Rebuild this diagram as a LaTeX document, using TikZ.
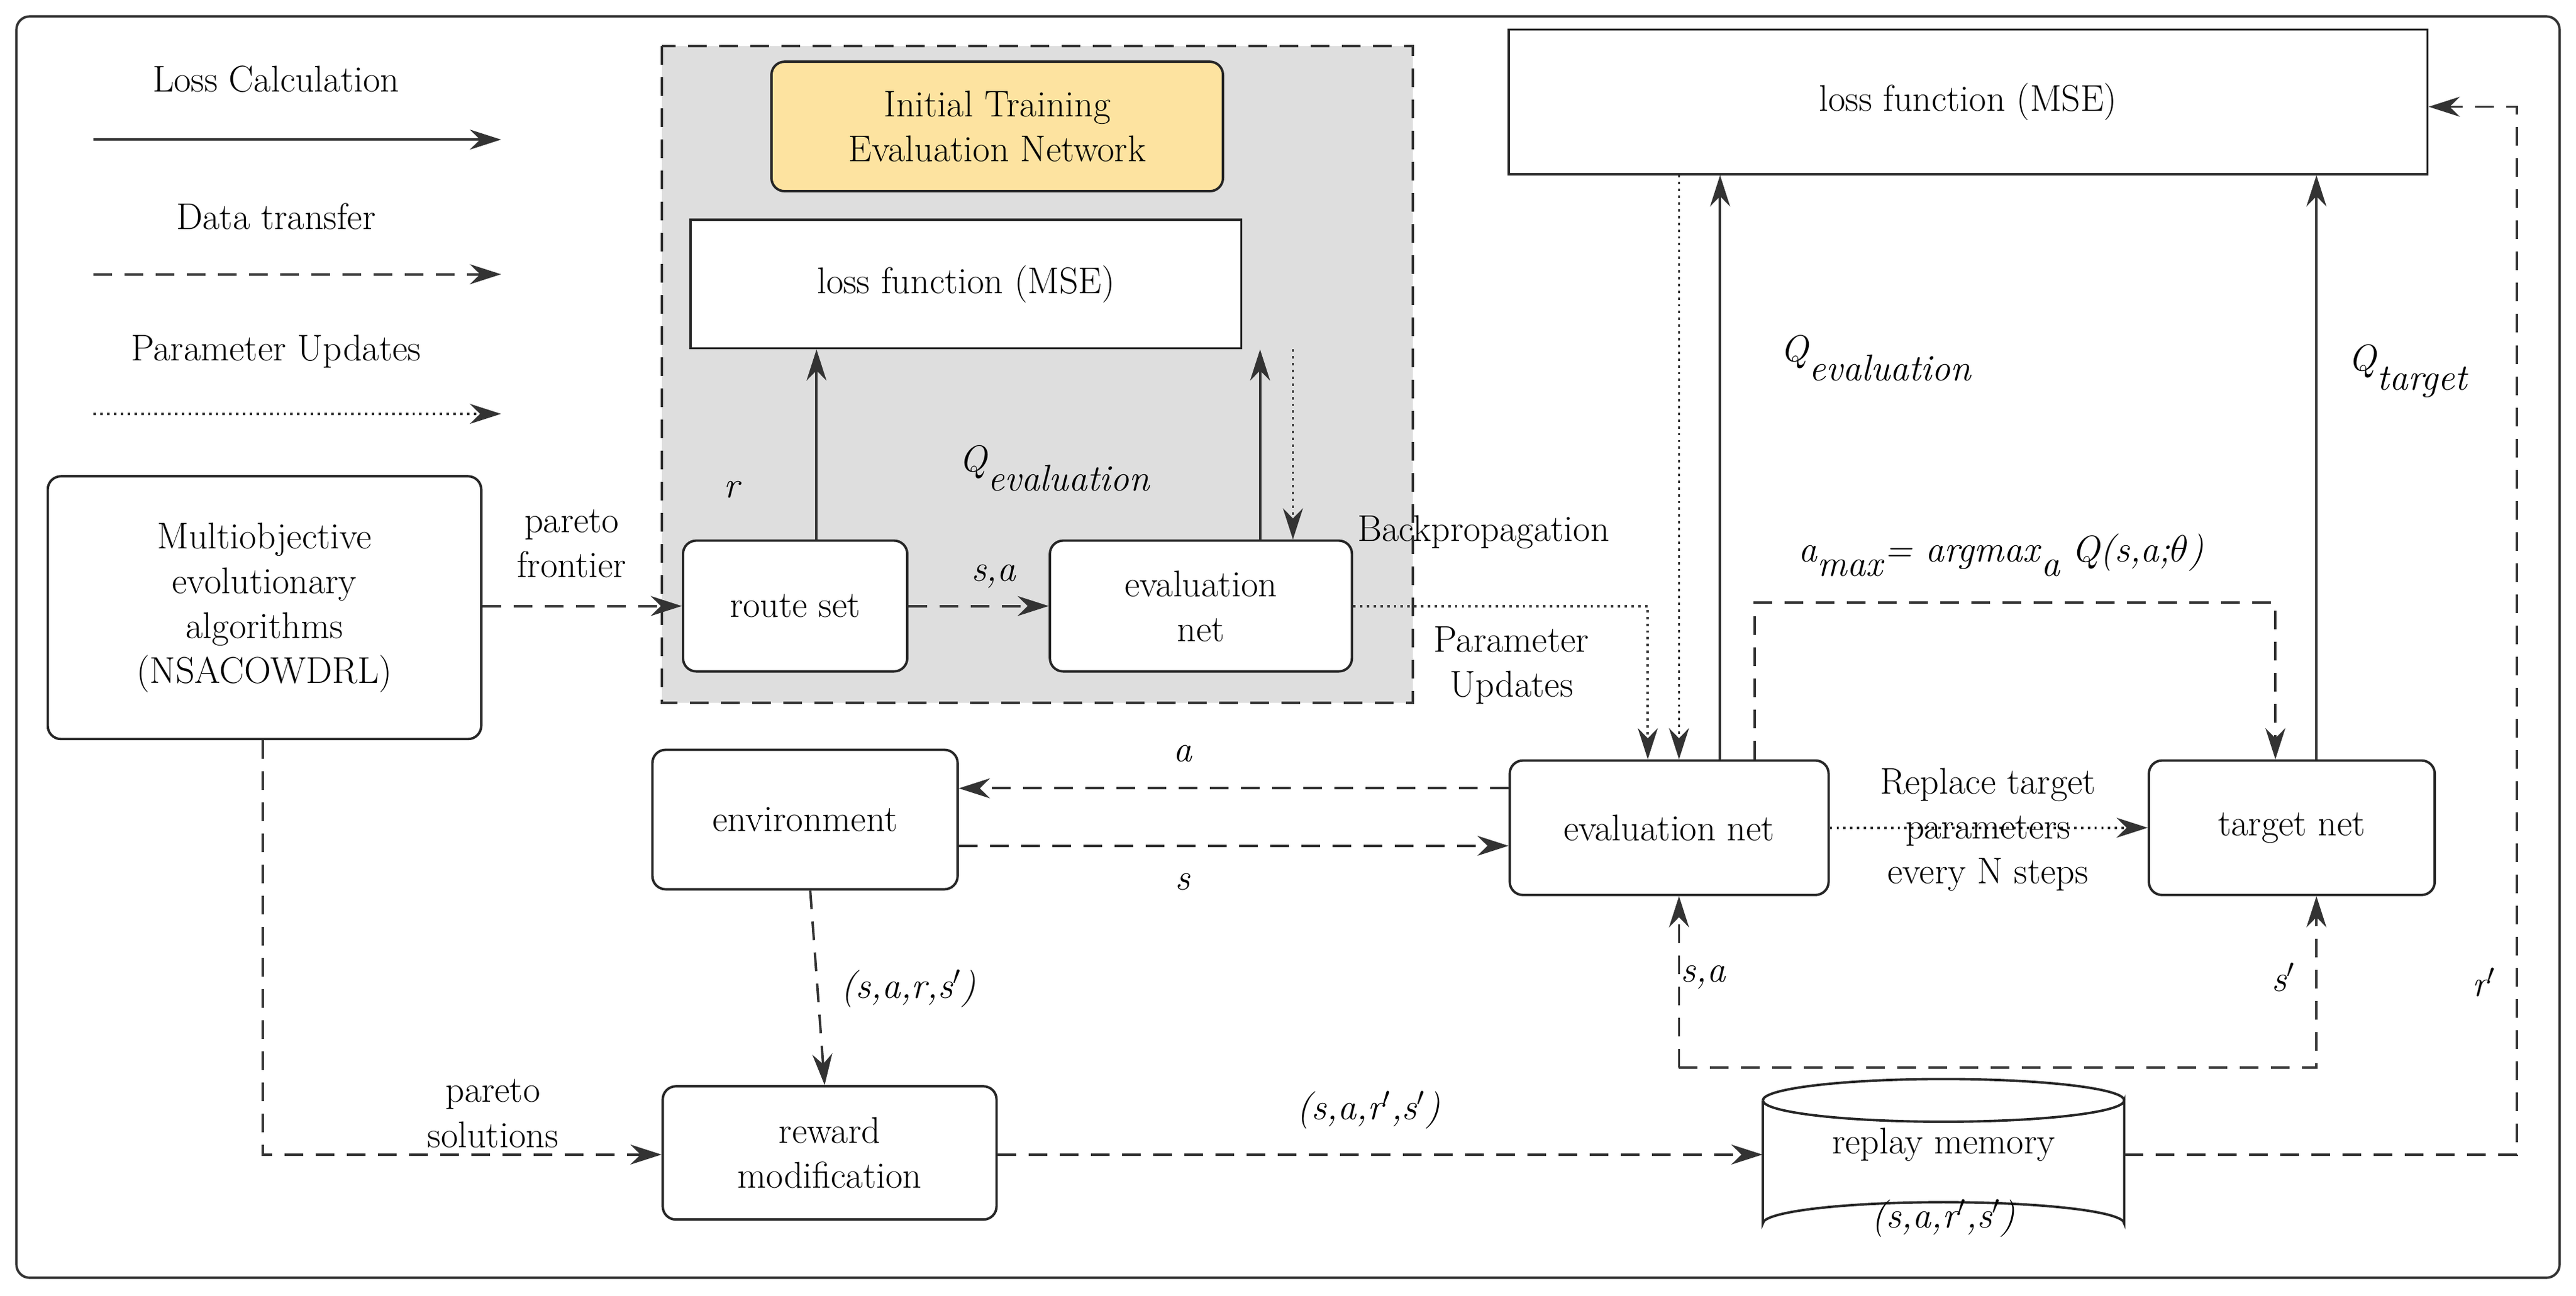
\documentclass[tikz,border=0pt]{standalone}
\usetikzlibrary{arrows.meta}

\tikzset{
    box/.style={draw=black!85, line width=1.1pt, rounded corners=6pt, align=center},
    lbl/.style={align=center},
    loss/.style={-{Stealth[length=5mm,width=3.2mm]}, line width=1.1pt, draw=black!80},
    data/.style={loss, dash pattern=on 3mm off 2mm},
    upd/.style={loss, dotted},
}

\begin{document}
\begin{tikzpicture}[x=0.2638mm,y=-0.2638mm,font=\fontsize{17}{20.5}\selectfont]

\useasboundingbox (0,0) rectangle (1568,789);
\draw[line width=1.1pt, rounded corners=6pt, draw=black!80] (10,10) rectangle (1558,778);

% legend
\node[lbl] (lg1) at (168,48) {Loss Calculation};
\node[lbl] (lg2) at (168,132) {Data transfer};
\node[lbl] (lg3) at (168,214) {Parameter Updates};
\coordinate (l1a) at (57,85);  \coordinate (l1b) at (305,85);
\coordinate (l2a) at (57,167); \coordinate (l2b) at (305,167);
\coordinate (l3a) at (57,252); \coordinate (l3b) at (305,252);
\draw[loss] (l1a) -- (l1b);
\draw[data] (l2a) -- (l2b);
\draw[upd] (l3a) -- (l3b);

% initial training block
\draw[fill=black!13, dash pattern=on 3mm off 2mm, line width=1.1pt, draw=black!80] (403,28) rectangle (860,428);
\node[box, fill=yellow!45!orange!35, minimum width=72.5mm, minimum height=20.8mm] (init) at (607,77) {Initial Training\\Evaluation Network};
\node[draw=black!85, line width=1.1pt, fill=white, minimum width=88.4mm, minimum height=20.6mm] (loss1) at (588,173) {loss function (MSE)};
\node[box, fill=white, minimum width=36mm, minimum height=21mm] (route) at (484,369) {route set};
\node[box, fill=white, minimum width=48.5mm, minimum height=21mm] (evs) at (731,369) {evaluation\\net};

\node[box, minimum width=69.6mm, minimum height=42.2mm] (moea) at (161,370) {Multiobjective\\evolutionary\\algorithms\\(NSACOWDRL)};

\node[draw=black!85, line width=1.1pt, minimum width=147.5mm, minimum height=23.2mm] (loss2) at (1198,62) {loss function (MSE)};
\node[box, minimum width=49mm, minimum height=22.4mm] (env) at (490,499) {environment};
\node[box, minimum width=51.2mm, minimum height=21.6mm] (evb) at (1016,504) {evaluation net};
\node[box, minimum width=45.9mm, minimum height=21.6mm] (tgt) at (1395,504) {target net};
\node[box, minimum width=53.6mm, minimum height=21.4mm] (rew) at (505,702) {reward\\modification};

% replay memory drum
\node[minimum width=58mm, minimum height=22mm, inner sep=0pt] (mem) at (1183,703) {};
\draw[line width=1.1pt, draw=black!85, fill=white]
    (1073,670) -- (1073,745) arc[start angle=180, end angle=360, x radius=110, y radius=13]
    -- (1293,670) arc[start angle=0, end angle=180, x radius=110, y radius=13];
\draw[line width=1.1pt, draw=black!85] (1073,670) arc[start angle=180, end angle=360, x radius=110, y radius=13];
\node[lbl] (memt) at (1183,697) {replay memory};
\node[lbl] (mems) at (1183,742) {\textit{(s,a,r$'$,s$'$)}};

% inner block connectors
\draw[loss] (route.north -| 497,0) -- (loss1.south -| 497,0);
\draw[loss] (evs.north -| 767,0) -- (loss1.south -| 767,0);
\draw[upd] (loss1.south -| 787,0) -- (evs.north -| 787,0);
\draw[data] (route) -- (evs);
\draw[data] (moea.east |- route) -- (route);
\node[lbl] at (446,298) {\textit{r}};
\node[lbl] at (642,285) {\textit{Q}\raisebox{-1.2ex}{\textit{evaluation}}};
\node[lbl] at (903,324) {Backpropagation};
\node[lbl] at (605,351) {\textit{s,a}};
\node[lbl] at (348,331) {pareto\\frontier};

% parameter updates
\coordinate (pu) at (1003,369);
\draw[upd] (evs.east) -- (pu) -- (evb.north -| pu);
\node[lbl] at (920,405) {Parameter\\Updates};
\draw[upd] (loss2.south -| 1022,0) -- (evb.north -| 1022,0);
\draw[loss] (evb.north -| 1047,0) -- (loss2.south -| 1047,0);
\draw[loss] (tgt.north -| 1410,0) -- (loss2.south -| 1410,0);
\node[lbl] at (1142,218) {\textit{Q}\raisebox{-1.2ex}{\textit{evaluation}}};
\node[lbl] at (1466,226) {\textit{Q}\raisebox{-1.2ex}{\textit{target}}};

% argmax
\coordinate (am1) at (1068,367); \coordinate (am2) at (1385,367);
\draw[data] (evb.north -| am1) -- (am1) -- (am2) -- (tgt.north -| am2);
\node[lbl] at (1218,338) {\textit{a}\raisebox{-0.9ex}{\textit{max}}\textit{= argmax}\raisebox{-0.9ex}{\textit{a}} \textit{Q(s,a;$\theta$)}};

% replace target
\draw[upd] (evb) -- (tgt);
\node[lbl] at (1210,505) {Replace target\\parameters\\every N steps};

% environment
\draw[data] (evb.west |- 0,480) -- (env.east |- 0,480);
\draw[data] (env.east |- 0,515) -- (evb.west |- 0,515);
\node[lbl] at (720,459) {\textit{a}};
\node[lbl] at (720,537) {\textit{s}};
\draw[data] (env) -- (rew);
\node[lbl] at (553,602) {\textit{(s,a,r,s$'$)}};

% pareto solutions
\coordinate (ps) at (160,703);
\draw[data] (moea.south -| ps) -- (ps) -- (rew.west |- ps);
\node[lbl] at (300,678) {pareto\\solutions};
\draw[data] (rew.east |- 0,703) -- (mem.west |- 0,703);
\node[lbl] at (833,676) {\textit{(s,a,r$'$,s$'$)}};

% replay to nets
\coordinate (m1) at (1022,650); \coordinate (m2) at (1410,650);
\draw[data] (m1) -- (evb.south -| m1);
\draw[data] (m1) -- (m2) -- (tgt.south -| m2);
\node[lbl] at (1037,595) {\textit{s,a}};
\node[lbl] at (1390,595) {\textit{s$'$}};
\coordinate (r1) at (1532,703); \coordinate (r2) at (1532,65);
\draw[data] (mem.east |- r1) -- (r1) -- (r2) -- (loss2.east |- r2);
\node[lbl] at (1512,598) {\textit{r$'$}};

\end{tikzpicture}
\end{document}
